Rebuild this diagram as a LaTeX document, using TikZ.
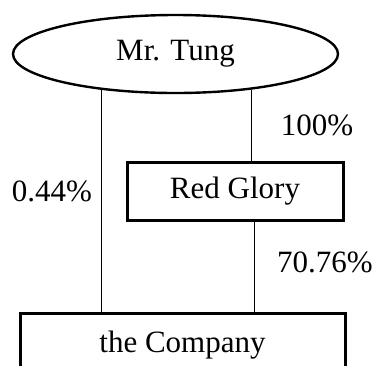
\documentclass[tikz,border=0pt]{standalone}
\usepackage{fontspec}
\setmainfont{Liberation Serif}
\usetikzlibrary{shapes.geometric}

\begin{document}
\begin{tikzpicture}[x=1pt, y=-1pt,
		every node/.style={font=\fontsize{31}{36}\selectfont},
		person/.style={ellipse, draw, line width=2.4pt, inner sep=0pt, minimum width=325, minimum height=78},
		firm/.style={rectangle, draw, line width=3pt, inner sep=0pt},
		link/.style={line width=1pt}]
		\clip (0, 0) rectangle (375, 365);
		\node [person] (tung) at (175.5, 54) {Mr. Tung};
		\node [firm, minimum width=216, minimum height=58] (red) at (235, 191) {Red Glory};
		\node [firm, minimum width=325, minimum height=64] (co) at (182.5, 345) {the Company};
		% holdings
		\draw [link] (tung.206.4) -- (tung.206.4 |- co.north);
		\draw [link] (tung.335.8) -- (tung.335.8 |- red.north);
		\draw [link] ([xshift=19pt]red.south) -- ([xshift=19pt]red.south |- co.north);
		\node (p100) at (317, 125) {100\%};
		\node (p044) at (52, 191) {0.44\%};
		\node (p7076) at (325, 262) {70.76\%};
	\end{tikzpicture}
\end{document}
